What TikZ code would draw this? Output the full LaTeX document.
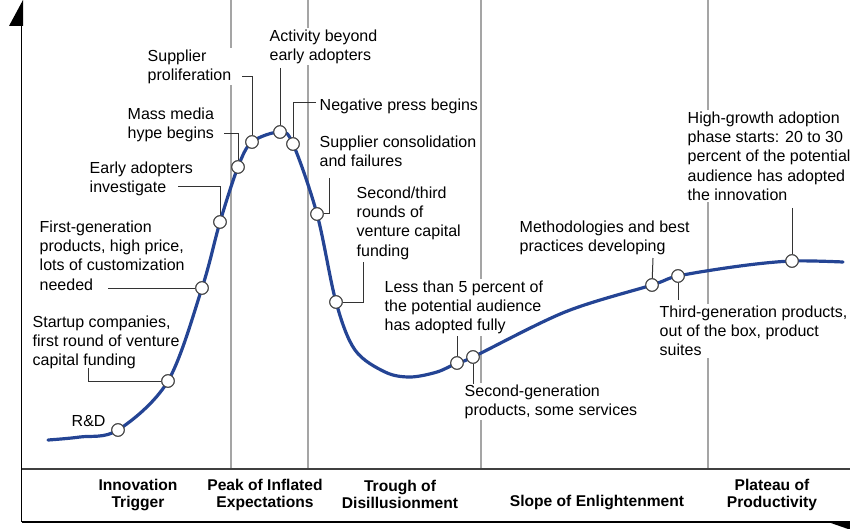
\documentclass[tikz,border=0pt]{standalone}
\usepackage{fontspec}
\setmainfont{Liberation Sans}
\usetikzlibrary{positioning}
\definecolor{hypeblue}{RGB}{36,68,148}
\definecolor{guidegray}{RGB}{165,165,165}

\begin{document}
\begin{tikzpicture}[x=1pt, y=-1pt,
      note/.style={font=\fontsize{16}{19.3}\selectfont, align=left, anchor=north west, inner sep=1.5pt, fill=white},
      phase/.style={font=\bfseries\fontsize{15.6}{17}\selectfont, align=center, inner sep=0pt},
      dot/.style={circle, draw=black!75, fill=white, line width=1pt, minimum size=12.5pt, inner sep=0pt},
      lead/.style={draw=black!80, line width=1pt},
      guide/.style={draw=guidegray, line width=1.2pt},
      hype/.style={draw=hypeblue, line width=3.2pt, line cap=round}
    ]
      \useasboundingbox (0,0) rectangle (850,529);

      % Phase separators
      \foreach \gx in {231,308,481,708}
        \draw[guide] (\gx,0) -- (\gx,469);

      % Axes and phase band
      \draw[line width=1.5pt] (21.5,522) -- (21.5,10);
      \fill (9,26) -- (23,0) -- (23,26) -- cycle;
      \draw[black!75, line width=1.5pt] (21.5,469) -- (850,469);
      \draw[line width=1.5pt] (21.5,522) -- (850,522);
      \fill (828,522) -- (851,522) -- (851,530) -- cycle;

      % Annotations
      \node[note] (rd) at (70,414) {R\&D};
      \node[note] (startup) at (31,314) {Startup companies,\\first round of venture\\capital funding};
      \node[note] (firstgen) at (38,219) {First-generation\\products, high price,\\lots of customization\\needed};
      \node[note] (early) at (88,160) {Early adopters\\investigate};
      \node[note] (media) at (126,106) {Mass media\\hype begins};
      \node[note] (prolif) at (146,48) {Supplier\\proliferation};
      \node[note] (activity) at (268,28) {Activity beyond\\early adopters};
      \node[note] (negative) at (318,97) {Negative press begins};
      \node[note] (consol) at (318,134) {Supplier consolidation\\and failures};
      \node[note] (rounds) at (355,185) {Second/third\\rounds of\\venture capital\\funding};
      \node[note] (less5) at (383,279) {Less than 5 percent of\\the potential audience\\has adopted fully};
      \node[note] (secgen) at (463,383) {Second-generation\\products, some services};
      \node[note] (method) at (518,219) {Methodologies and best\\practices developing};
      \node[note] (thirdgen) at (658,304) {Third-generation products,\\out of the box, product\\suites};
      \node[note] (highgrowth) at (686,110) {High-growth adoption\\phase starts: 20 to 30\\percent of the potential\\audience has adopted\\the innovation};

      % Phase names
      \node[phase] (trigger) at (138,494.5) {Innovation\\Trigger};
      \node[phase] (peak) at (265,494.5) {Peak of Inflated\\Expectations};
      \node[phase] (trough) at (400,494.5) {Trough of\\Disillusionment};
      \node[phase] (slope) at (597,502) {Slope of Enlightenment};
      \node[phase] (plateau) at (772,494.5) {Plateau of\\Productivity};

      % Leader ends
      \foreach \name/\px/\py in {startup/88/368, firstgen/108/288, early/178/187, media/224/134,
          prolif/242/77, activity/280/68, negative/316/103, consol/329/178, rounds/363/262,
          less5/457/336, secgen/473/384, method/653/258, thirdgen/678/300, highgrowth/792/208}
        \coordinate (c-\name) at (\px,\py);

      % Markers on the curve
      \foreach \name/\px/\py in {rd/118/430, startup/168/381, firstgen/202/288, early/220/222,
          media/238/167, prolif/252/142, activity/280/132, negative/293/144, consol/317/214,
          rounds/336/302, less5/457/363, secgen/473/357, method/652/285, thirdgen/678/276,
          highgrowth/792/261}
        \node[dot] (m-\name) at (\px,\py) {};

      % Leaders
      \draw[lead] (c-startup) |- (m-startup);
      \draw[lead] (c-firstgen) -- (m-firstgen);
      \draw[lead] (c-early) -| (m-early);
      \draw[lead] (c-media) -| (m-media);
      \draw[lead] (c-prolif) -| (m-prolif);
      \draw[lead] (c-activity) -- (m-activity);
      \draw[lead] (c-negative) -| (m-negative);
      \draw[lead] (c-consol) |- (m-consol);
      \draw[lead] (c-rounds) |- (m-rounds);
      \draw[lead] (c-less5) -- (m-less5);
      \draw[lead] (m-secgen) -- (c-secgen);
      \draw[lead] (c-method) -- (m-method);
      \draw[lead] (m-thirdgen) -- (c-thirdgen);
      \draw[lead] (c-highgrowth) -- (m-highgrowth);

      % Hype curve
      \draw[hype] plot[smooth, tension=0.55] coordinates {(48,440) (80,437) (118,430) (168,381)
          (202,288) (220,222) (238,167) (252,142) (280,132) (293,144) (317,214) (336,302)
          (355,350) (385,372) (410,377) (437,372) (457,363) (473,357) (565,312) (652,285)
          (678,276) (740,266) (792,261) (843,262)};

      % Redraw markers over the curve
      \foreach \name/\px/\py in {rd/118/430, startup/168/381, firstgen/202/288, early/220/222,
          media/238/167, prolif/252/142, activity/280/132, negative/293/144, consol/317/214,
          rounds/336/302, less5/457/363, secgen/473/357, method/652/285, thirdgen/678/276,
          highgrowth/792/261}
        \node[dot] at (\px,\py) {};
    \end{tikzpicture}
\end{document}
